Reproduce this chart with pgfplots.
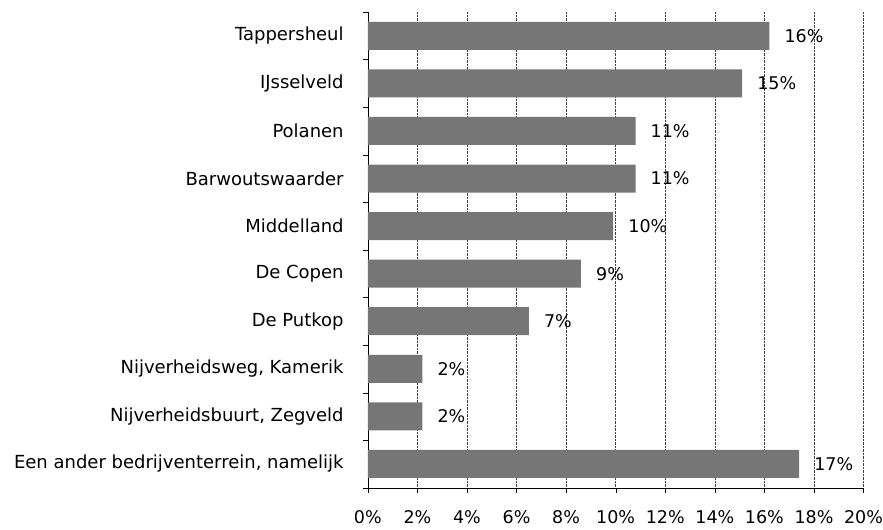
\documentclass[border=0pt]{standalone}
\usepackage{fontspec}
\setmainfont{DejaVu Sans}
\usepackage{pgfplots}
\pgfplotsset{compat=1.18}
\definecolor{bargray}{RGB}{118,118,118}
\begin{document}
\begin{tikzpicture}[x=1pt,y=1pt]
\begin{axis}[
  width=496pt, height=476pt,
  scale only axis,
  xbar, bar width=28pt,
  xmin=0, xmax=20,
  ymin=-0.5, ymax=9.5,
  y dir=reverse,
  axis x line*=bottom, axis y line*=left,
  xtick={0,2,...,20},
  minor xtick={0,2,...,20},
  xticklabel={\pgfmathprintnumber{\tick}\%},
  xmajorgrids, major grid style={densely dotted, black!75},
  ytick={0,...,9},
  yticklabels={Tappersheul, IJsselveld, Polanen, Barwoutswaarder, Middelland, De Copen, De Putkop, {Nijverheidsweg, Kamerik}, {Nijverheidsbuurt, Zegveld}, {Een ander bedrijventerrein, namelijk}},
  minor ytick={-0.5,0.5,...,9.5},
  tick align=outside,
  major tick length=0pt,
  minor tick length=5pt,
  x tick label style={font=\fontsize{17.5}{19}\selectfont, inner sep=0pt, yshift=-23pt},
  y tick label style={font=\fontsize{18}{20}\selectfont, inner sep=0pt, xshift=-24pt},
  /pgf/number format/assume math mode=true,
  nodes near coords,
  point meta=explicit symbolic,
  every node near coord/.append style={font=\fontsize{17.5}{19}\selectfont, anchor=west, inner sep=0pt, xshift=15pt},
  tick style={black},
  axis line style={black},
]
\addplot[draw=none, fill=bargray] coordinates {
  (16.2,0) [16\%]
  (15.1,1) [15\%]
  (10.8,2) [11\%]
  (10.8,3) [11\%]
  (9.9,4) [10\%]
  (8.6,5) [9\%]
  (6.5,6) [7\%]
  (2.2,7) [2\%]
  (2.2,8) [2\%]
  (17.4,9) [17\%]
};
\end{axis}
\path (current axis.south west) ++(-368pt,-42pt) rectangle ++(883pt,530pt);
\end{tikzpicture}
\end{document}
